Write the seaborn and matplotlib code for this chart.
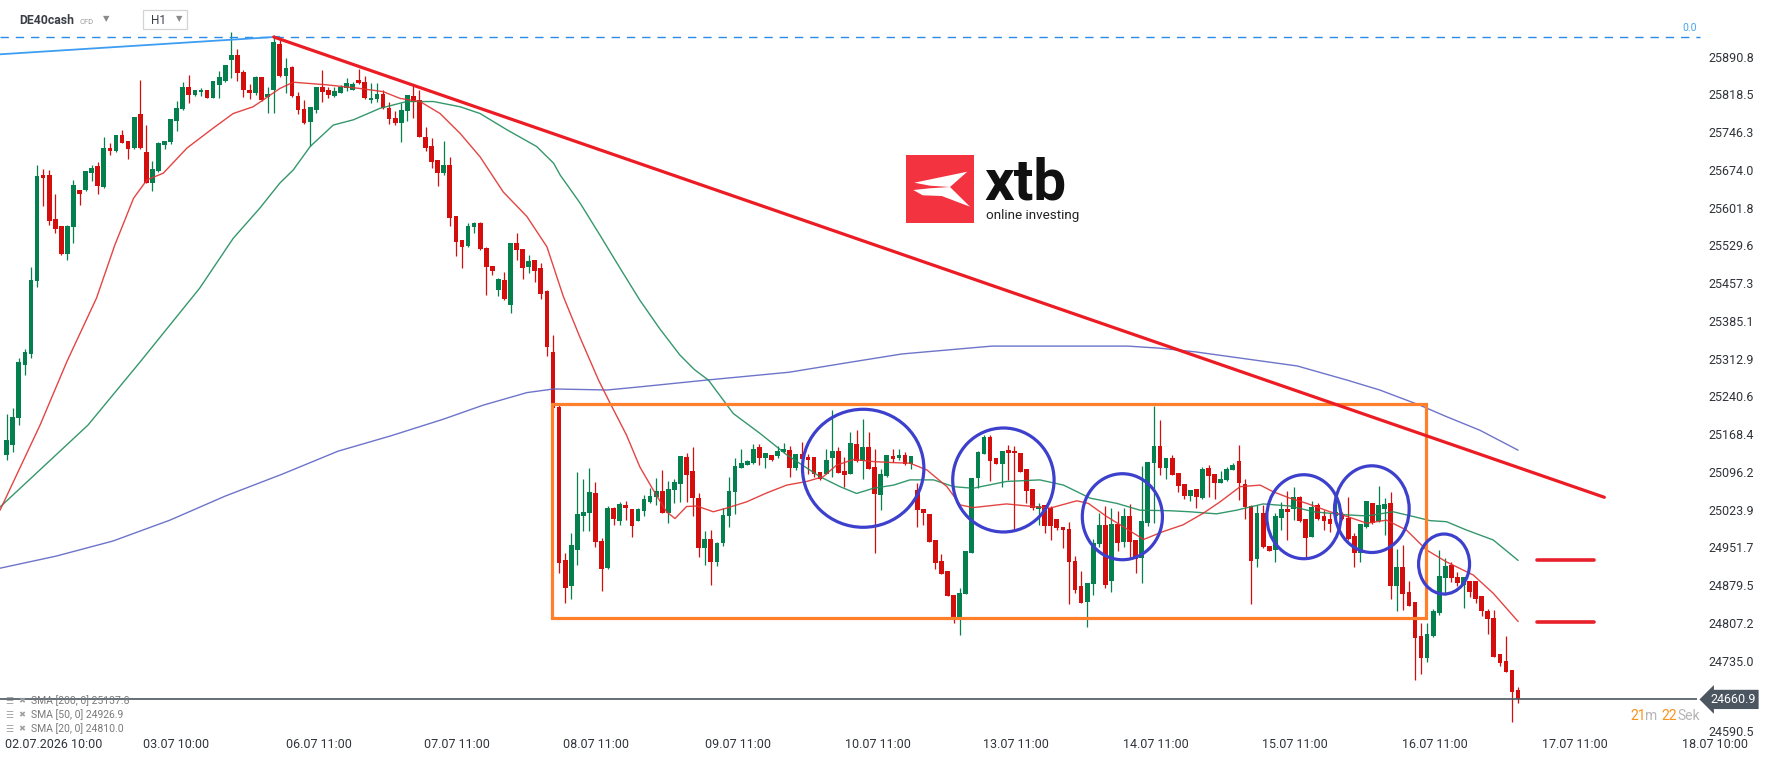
import numpy as np
import matplotlib
matplotlib.use('Agg')
import matplotlib.pyplot as plt
import seaborn as sns
from matplotlib.patches import Rectangle, Ellipse, Polygon
from matplotlib.transforms import ScaledTranslation

# --- hourly candles DE40cash, 02.07 - 16.07 ---
opens = [25129, 25148, 25200, 25301, 25322, 25462, 25664, 25664, 25580, 25566,
         25513, 25564, 25636, 25636, 25669, 25682, 25641, 25716, 25710, 25741,
         25730, 25716, 25781, 25708, 25650, 25673, 25722, 25728, 25768, 25791,
         25833, 25818, 25824, 25827, 25812, 25837, 25844, 25885, 25894, 25862,
         25828, 25822, 25851, 25814, 25827, 25916, 25854, 25871, 25816, 25790,
         25765, 25789, 25832, 25827, 25816, 25822, 25830, 25828, 25846, 25843,
         25807, 25810, 25819, 25793, 25773, 25763, 25786, 25816, 25808, 25738,
         25720, 25693, 25669, 25684, 25586, 25540, 25529, 25564, 25573, 25525,
         25490, 25444, 25464, 25416, 25535, 25523, 25489, 25502, 25486, 25442,
         25325, 25221, 24928, 24877, 24947, 25011, 25018, 25055, 24964, 24913,
         25027, 25003, 25033, 25025, 25003, 25021, 25039, 25049, 25060, 25018,
         25062, 25073, 25124, 25098, 25046, 24950, 24967, 24923, 24960, 25011,
         25057, 25104, 25109, 25113, 25143, 25123, 25129, 25127, 25135, 25138,
         25104, 25131, 25124, 25124, 25096, 25092, 25123, 25136, 25098, 25092,
         25150, 25118, 25143, 25105, 25052, 25088, 25127, 25123, 25129, 25111,
         25062, 25025, 25016, 24966, 24926, 24907, 24861, 24816, 24862, 24942,
         25085, 25131, 25163, 25122, 25111, 25138, 25137, 25133, 25102, 25064,
         25025, 25033, 25027, 25006, 24990, 24987, 24926, 24878, 24848, 24882,
         24958, 24995, 24888, 24997, 24962, 25012, 24966, 24931, 24999, 25114,
         25146, 25103, 25122, 25095, 25073, 25050, 25064, 25047, 25103, 25092,
         25075, 25081, 25100, 25117, 25073, 25031, 24929, 25018, 24955, 24946,
         25009, 25025, 25025, 25049, 25006, 24972, 25032, 25011, 25006, 25012,
         25016, 25009, 24974, 24942, 24991, 25036, 25002, 25025, 25036, 24877,
         24914, 24866, 24847, 24782, 24741, 24782, 24827, 24894, 24918, 24896,
         24880, 24888, 24888, 24858, 24831, 24817, 24748, 24734, 24717, 24679]
highs = [25207, 25219, 25314, 25331, 25489, 25684, 25676, 25674, 25628, 25567,
         25569, 25654, 25636, 25672, 25684, 25690, 25737, 25725, 25741, 25751,
         25730, 25776, 25846, 25760, 25691, 25728, 25730, 25772, 25806, 25843,
         25856, 25827, 25830, 25828, 25844, 25863, 25875, 25939, 25906, 25865,
         25838, 25854, 25851, 25832, 25932, 25925, 25888, 25873, 25823, 25808,
         25794, 25832, 25865, 25832, 25833, 25837, 25850, 25843, 25867, 25853,
         25840, 25840, 25827, 25805, 25787, 25802, 25818, 25835, 25827, 25756,
         25736, 25693, 25730, 25698, 25586, 25540, 25572, 25575, 25575, 25527,
         25490, 25468, 25479, 25535, 25554, 25523, 25511, 25502, 25496, 25445,
         25358, 25224, 24941, 24979, 25096, 25082, 25103, 25076, 24969, 25031,
         25030, 25039, 25041, 25025, 25028, 25053, 25066, 25085, 25100, 25079,
         25082, 25127, 25132, 25144, 25055, 24984, 24986, 24963, 25027, 25087,
         25122, 25140, 25119, 25150, 25150, 25132, 25129, 25146, 25151, 25145,
         25131, 25154, 25131, 25124, 25096, 25140, 25215, 25143, 25125, 25173,
         25177, 25198, 25172, 25140, 25102, 25129, 25140, 25141, 25135, 25127,
         25075, 25025, 25016, 24966, 24939, 24907, 24861, 24874, 24945, 25085,
         25136, 25167, 25167, 25122, 25137, 25148, 25145, 25133, 25102, 25064,
         25036, 25033, 25031, 25006, 24990, 25000, 24936, 24907, 24884, 24967,
         25018, 25031, 25028, 25021, 25027, 25034, 24966, 25108, 25116, 25222,
         25196, 25122, 25129, 25095, 25073, 25062, 25064, 25105, 25110, 25092,
         25098, 25106, 25113, 25148, 25083, 25033, 25033, 25033, 24955, 25018,
         25039, 25060, 25067, 25050, 25006, 25041, 25036, 25023, 25017, 25043,
         25020, 25049, 24979, 24996, 25041, 25037, 25069, 25046, 25057, 24948,
         24956, 24888, 24847, 24807, 24807, 24833, 24947, 24931, 24924, 24905,
         24896, 24888, 24888, 24858, 24833, 24832, 24748, 24782, 24717, 24685]
lows = [25119, 25134, 25186, 25282, 25315, 25451, 25605, 25569, 25553, 25511,
        25502, 25534, 25607, 25634, 25652, 25628, 25639, 25703, 25708, 25725,
        25695, 25714, 25714, 25649, 25633, 25671, 25714, 25724, 25749, 25789,
        25803, 25816, 25816, 25812, 25812, 25812, 25843, 25850, 25844, 25814,
        25809, 25818, 25806, 25783, 25783, 25851, 25822, 25813, 25781, 25762,
        25719, 25783, 25805, 25811, 25813, 25821, 25826, 25827, 25839, 25809,
        25803, 25805, 25790, 25762, 25760, 25728, 25768, 25774, 25737, 25710,
        25677, 25644, 25664, 25566, 25510, 25487, 25527, 25553, 25521, 25435,
        25473, 25432, 25425, 25401, 25502, 25465, 25476, 25459, 25427, 25318,
        25218, 24902, 24846, 24854, 24918, 24984, 24984, 24953, 24869, 24910,
        24995, 24995, 25004, 24972, 25003, 25011, 25036, 25033, 25017, 24999,
        25037, 25039, 25039, 25011, 24934, 24918, 24879, 24917, 24955, 24990,
        25016, 25104, 25109, 25111, 25110, 25104, 25117, 25122, 25133, 25087,
        25100, 25100, 25092, 25087, 25081, 25092, 25087, 25094, 25068, 25092,
        25116, 25082, 25102, 24941, 25023, 25087, 25116, 25119, 25110, 25101,
        24991, 24995, 24963, 24910, 24901, 24859, 24808, 24784, 24862, 24942,
        25065, 25131, 25079, 25111, 25067, 25081, 24985, 25097, 25037, 25023,
        24995, 24980, 24966, 24985, 24951, 24843, 24864, 24846, 24800, 24861,
        24953, 24875, 24867, 24944, 24953, 24934, 24903, 24884, 24993, 24999,
        25090, 25083, 25090, 25058, 25044, 25041, 25028, 25044, 25049, 25044,
        25075, 25078, 25099, 25043, 25006, 24843, 24914, 24951, 24944, 24923,
        24985, 24966, 25004, 25000, 24934, 24972, 25004, 24985, 24982, 25008,
        25004, 24966, 24915, 24923, 24988, 24996, 25001, 24976, 24854, 24831,
        24832, 24840, 24699, 24709, 24733, 24780, 24822, 24861, 24885, 24878,
        24835, 24856, 24845, 24821, 24786, 24743, 24724, 24714, 24618, 24654]
closes = [25157, 25202, 25307, 25325, 25464, 25663, 25659, 25577, 25561, 25513,
          25567, 25645, 25628, 25672, 25677, 25643, 25716, 25711, 25741, 25726,
          25714, 25776, 25716, 25650, 25676, 25726, 25730, 25772, 25793, 25833,
          25818, 25827, 25828, 25812, 25844, 25851, 25875, 25894, 25859, 25827,
          25822, 25851, 25808, 25819, 25918, 25854, 25869, 25816, 25788, 25763,
          25794, 25832, 25824, 25818, 25825, 25833, 25840, 25839, 25840, 25812,
          25812, 25819, 25792, 25771, 25763, 25789, 25818, 25805, 25737, 25717,
          25690, 25669, 25684, 25582, 25537, 25527, 25566, 25573, 25522, 25489,
          25481, 25465, 25427, 25534, 25520, 25487, 25500, 25481, 25437, 25336,
          25218, 24921, 24875, 24956, 25015, 25020, 25057, 24963, 24911, 25027,
          25006, 25035, 25028, 24993, 25025, 25044, 25050, 25060, 25018, 25064,
          25076, 25127, 25090, 25046, 24950, 24967, 24924, 24960, 25014, 25060,
          25108, 25114, 25117, 25141, 25123, 25132, 25119, 25137, 25140, 25103,
          25131, 25121, 25119, 25092, 25083, 25119, 25136, 25095, 25090, 25152,
          25118, 25143, 25102, 25054, 25092, 25129, 25121, 25129, 25111, 25127,
          25023, 25018, 24963, 24921, 24901, 24859, 24816, 24865, 24944, 25085,
          25135, 25163, 25118, 25111, 25137, 25132, 25132, 25097, 25060, 25027,
          25031, 24993, 24993, 24988, 24985, 24923, 24870, 24846, 24884, 24960,
          24995, 24880, 24997, 24960, 25011, 24963, 24929, 25002, 25116, 25146,
          25103, 25122, 25090, 25069, 25050, 25062, 25049, 25102, 25089, 25075,
          25083, 25101, 25110, 25075, 25029, 24926, 25017, 24953, 24944, 25011,
          25025, 25020, 25048, 25003, 24970, 25030, 25006, 25003, 24997, 25019,
          25006, 24968, 24942, 24996, 25041, 24998, 25033, 25035, 24877, 24914,
          24862, 24840, 24779, 24740, 24787, 24830, 24897, 24916, 24893, 24883,
          24896, 24867, 24854, 24831, 24814, 24743, 24731, 24714, 24676, 24660.9]

# --- moving averages (candle index / price) ---
sma20_idx = [-1.1, 5.5, 9.9, 14.8, 17.8, 20.9, 23.1, 25.8, 29.7, 34.0, 37.3, 40.6, 45.0, 47.2,
             52.7, 58.2, 62.0, 64.8, 68.1, 71.4, 74.7, 78.0, 81.8, 85.7, 89.0, 91.7, 94.4,
             97.5, 99.4, 102.1, 104.3, 106.5, 108.7, 110.1, 112.0, 113.7, 116.4, 118.6,
             121.9, 125.2, 128.5, 131.8, 134.5, 136.7, 139.5, 142.8, 146.1, 148.8, 151.6,
             154.9, 157.1, 159.2, 164.7, 169.1, 171.9, 176.3, 178.2, 181.2, 184.0, 187.3,
             190.5, 193.8, 197.1, 199.9, 203.2, 206.5, 208.7, 211.4, 214.2, 218.0, 220.8,
             224.1, 227.3, 230.6, 233.9, 237.2, 241.6, 244.9, 249.0]
sma20_val = [25023, 25186, 25307, 25429, 25530, 25620, 25655, 25668, 25716, 25754, 25782,
             25795, 25830, 25842, 25837, 25830, 25824, 25811, 25805, 25782, 25744, 25699,
             25632, 25585, 25527, 25432, 25355, 25272, 25228, 25167, 25106, 25062, 25020,
             25007, 25030, 25031, 25020, 25027, 25039, 25056, 25071, 25078, 25087, 25109,
             25120, 25116, 25114, 25113, 25100, 25068, 25033, 25028, 25035, 25030, 25027,
             25041, 25036, 25011, 24991, 24967, 24982, 24995, 25017, 25039, 25068, 25071,
             25058, 25046, 25036, 25020, 25011, 24998, 25004, 24985, 24947, 24924, 24899,
             24864, 24810.0]
sma50_idx = [-1.1, 13.4, 22.0, 31.8, 37.3, 41.7, 45.0, 47.2, 50.0, 53.8, 57.1, 61.5, 65.9,
             70.3, 74.7, 78.0, 82.4, 87.3, 90.1, 91.2, 94.5, 97.7, 101.0, 104.3, 107.6, 110.9,
             113.3, 115.6, 119.7, 124.1, 128.5, 134.0, 137.3, 140.0, 142.8, 146.1, 148.8,
             152.7, 156.0, 159.2, 164.7, 170.2, 174.1, 178.5, 182.9, 186.7, 191.6, 194.9,
             199.3, 202.6, 207.0, 211.4, 215.3, 220.8, 224.1, 228.4, 231.7, 234.5, 237.2,
             240.5, 244.9, 249.0]
sma50_val = [25029, 25186, 25307, 25448, 25543, 25601, 25649, 25674, 25719, 25760, 25770,
             25792, 25805, 25805, 25795, 25782, 25751, 25719, 25687, 25664, 25610, 25550,
             25487, 25425, 25370, 25320, 25292, 25272, 25208, 25170, 25129, 25087, 25068,
             25055, 25065, 25071, 25081, 25081, 25068, 25065, 25078, 25081, 25071, 25046,
             25036, 25023, 25022, 25020, 25016, 25023, 25035, 25031, 25020, 25014, 25012,
             25020, 25011, 25003, 25001, 24985, 24966, 24926.9]
sma200_idx = [-1.1, 8.1, 17.5, 26.9, 36.0, 45.4, 54.6, 63.2, 71.9, 78.5, 85.7, 90.1, 98.9,
              104.3, 115.3, 128.9, 138.9, 147.5, 162.3, 173.5, 184.7, 190.0, 195.8, 212.6,
              220.8, 226.2, 232.8, 237.2, 242.7, 249.0]
sma200_val = [24912, 24935, 24964, 25004, 25050, 25092, 25136, 25165, 25197, 25224, 25248,
              25255, 25253, 25259, 25272, 25287, 25306, 25322, 25337, 25337, 25337, 25333,
              25326, 25299, 25272, 25253, 25224, 25202, 25176, 25137.8]

# --- drawings on the chart ---
trend_idx = [44.0, 263.2]
trend_val = [25928.5, 25047.7]
fib_line_idx = [-1.1, 44.9]
fib_line_val = [25895.4, 25929.1]
fib_level = 25927.9
range_box = [89.8, 233.9, 24816.1, 25225.6]   # left, right, bottom, top
circle_idx = [141.1, 164.2, 183.8, 213.7, 224.9, 236.8]
circle_val = [25103.2, 25080.8, 25010.5, 25010.5, 25025.0, 24920.0]
circle_w = [20.0, 16.7, 13.2, 12.2, 12.3, 8.4]
circle_h = [225.8, 199.0, 164.6, 160.7, 165.9, 114.8]
level_marks = [24926.9, 24810.0]
last_price = 24660.9

yticks = [25890.8, 25818.5, 25746.3, 25674.0, 25601.8, 25529.6, 25457.3, 25385.1, 25312.9,
          25240.6, 25168.4, 25096.2, 25023.9, 24951.7, 24879.5, 24807.2, 24735.0, 24590.5]
xtick_labels = ['02.07.2026 10:00', '03.07 10:00', '06.07 11:00', '07.07 11:00', '08.07 11:00',
                '09.07 11:00', '10.07 11:00', '13.07 11:00', '14.07 11:00', '15.07 11:00',
                '16.07 11:00', '17.07 11:00', '18.07 10:00']
xtick_pos = [-0.2, 27.9, 51.5, 74.2, 97.1, 120.5, 143.6, 166.3, 189.3, 212.3, 235.3, 258.4, 281.4]

legend_lines = ['SMA [200, 0] 25137.8', 'SMA [50, 0] 24926.9', 'SMA [20, 0] 24810.0']

# --- layout ---
W, H = 1768, 761
BAR_PX, FIRST_PX = 6.07, 6.7
REF_PRICE, REF_PX, PX_PER_PT = 25890.8, 56.7, 0.52258

GREEN = '#04804f'
RED = '#d40d0d'

sns.set_theme(style='white')
plt.rcParams['font.family'] = ['Roboto', 'DejaVu Sans']

fig = plt.figure(figsize=(W / 100, H / 100), dpi=100)
ax = fig.add_axes([0, 0, 1, 1])
ax.set_xlim(-FIRST_PX / BAR_PX, (W - FIRST_PX) / BAR_PX)
ax.set_ylim(REF_PRICE - (H - REF_PX) / PX_PER_PT, REF_PRICE + REF_PX / PX_PER_PT)
for s in ax.spines.values():
    s.set_visible(False)


def fx(px):
    return px / W


def fy(py):
    return 1 - py / H


def px_idx(px):
    return (px - FIRST_PX) / BAR_PX


o = np.array(opens, dtype=float)
c = np.array(closes, dtype=float)
hi = np.array(highs, dtype=float)
lo = np.array(lows, dtype=float)
x = np.arange(len(c))
cols = np.where(c >= o, GREEN, RED)

ax.vlines(x, lo, hi, colors=cols, lw=0.9, zorder=2)
ax.bar(x, np.maximum(np.abs(c - o), 1.6), bottom=np.minimum(o, c), width=0.78,
       color=cols, linewidth=0, zorder=3)

sns.lineplot(x=sma200_idx, y=sma200_val, ax=ax, color='#5d65c4', lw=1.0, alpha=0.9,
             sort=False, estimator=None, legend=False, zorder=4)
sns.lineplot(x=sma50_idx, y=sma50_val, ax=ax, color='#1f8c5c', lw=1.0, alpha=0.9,
             sort=False, estimator=None, legend=False, zorder=4)
sns.lineplot(x=sma20_idx, y=sma20_val, ax=ax, color='#e0312f', lw=1.0, alpha=0.9,
             sort=False, estimator=None, legend=False, zorder=4)

# fibo / trend tools
xr = ax.get_xlim()
ax.hlines(fib_level, xr[0], px_idx(1700), colors='#2b8be6', lw=1.0,
          linestyles=(0, (6, 5)), zorder=4)
ax.plot(fib_line_idx, fib_line_val, color='#3d9df2', lw=1.3, zorder=4)
ax.text(px_idx(1697), fib_level + 17, '0.0', color='#4aa2ee', fontsize=7.5,
        ha='right', va='center')
ax.plot(trend_idx, trend_val, color='#ec1c24', lw=2.3, solid_capstyle='round', zorder=6)

ax.add_patch(Rectangle((range_box[0], range_box[2]), range_box[1] - range_box[0],
                       range_box[3] - range_box[2], fill=False, ec='#ff7f2a', lw=2.3, zorder=5))
for cx, cy, w, h in zip(circle_idx, circle_val, circle_w, circle_h):
    ax.add_patch(Ellipse((cx, cy), w, h, fill=False, ec='#3c40cc', lw=2.3, zorder=7))
for lv in level_marks:
    ax.hlines(lv, 252.1, 261.5, colors='#e8202a', lw=2.6, zorder=6, capstyle='round')

# last price
ax.hlines(last_price, xr[0], px_idx(1697), colors='#4b5661', lw=1.2, zorder=3)
ax.text(px_idx(1710), last_price, f'{last_price:.1f}', color='white',
        fontsize=9, ha='left', va='center', zorder=8,
        bbox=dict(boxstyle='larrow,pad=0.25', fc='#4b5661', ec='none'))

# axes ticks
ax.yaxis.tick_right()
ax.set_yticks(yticks)
ax.set_yticklabels([f'{v:.1f}' for v in yticks])
ax.tick_params(axis='y', length=0, pad=-43, labelsize=9, labelcolor='#30343a')
# lowest price label sits pushed up above the time axis, as in the platform
ax.get_yticklabels()[-1].set_transform(
    ax.get_yticklabels()[-1].get_transform() + ScaledTranslation(0, 4 / 72, fig.dpi_scale_trans))
ax.set_xticks(xtick_pos)
ax.set_xticklabels(xtick_labels)
ax.tick_params(axis='x', length=0, pad=-16.5, labelsize=9, labelcolor='#30343a')
for lab in ax.get_xticklabels():
    lab.set_family(['Liberation Sans Narrow', 'Roboto'])
ax.get_xticklabels()[0].set_horizontalalignment('left')

# header
fig.text(fx(19), fy(20), 'DE40cash', fontsize=8.8, fontweight='bold', color='#3a3f47', va='center')
fig.text(fx(79), fy(22), 'CFD', fontsize=5.5, color='#9a9a9a', va='center')
fig.text(fx(103), fy(19), '▼', fontsize=6, color='#8a8a8a', va='center', family=['DejaVu Sans'])
fig.add_artist(Rectangle((fx(143), fy(29)), 44 / W, 19 / H, transform=fig.transFigure,
                         fill=False, ec='#d4d4d4', lw=0.9))
fig.text(fx(151), fy(20), 'H1', fontsize=8.5, color='#3a3f47', va='center')
fig.text(fx(176), fy(19), '▼', fontsize=6, color='#8a8a8a', va='center', family=['DejaVu Sans'])

# xtb logo
fig.add_artist(Rectangle((fx(906), fy(223)), 68 / W, 68 / H, transform=fig.transFigure,
                         color='#f3333f', lw=0))
shard1 = [(914.3, 182.7), (967.3, 171.7), (950, 187), (930, 185.7)]
shard2 = [(913.3, 190), (930, 188.3), (950, 187), (970, 206.7), (941.7, 196), (922.7, 195.3)]
for sh in (shard1, shard2):
    fig.add_artist(Polygon([(fx(a), fy(b)) for a, b in sh], closed=True,
                           transform=fig.transFigure, color='white', lw=0))
fig.text(fx(984), fy(199), 'xtb', fontsize=42, fontweight='bold', color='#111111', va='baseline')
fig.text(fx(986), fy(219), 'online investing', fontsize=9.7, color='#222222', va='baseline')

# countdown
for txt, px, col in [('21', 1630, '#f7941d'), ('m', 1645, '#b5b5b5'),
                     ('22', 1661, '#f7941d'), ('Sek', 1677, '#b5b5b5')]:
    fig.text(fx(px), fy(716), txt, fontsize=10, color=col, va='center')

# indicator legend
for i, line in enumerate(legend_lines):
    yy = fy(701 + i * 14)
    fig.text(fx(5), yy, '☰', fontsize=6.5, color='#a0a0a0', va='center', family=['DejaVu Sans'])
    fig.text(fx(18), yy, '✖', fontsize=6, color='#a0a0a0', va='center', family=['DejaVu Sans'])
    fig.text(fx(31), yy, line, fontsize=7.5, color='#7a7a7a', va='center',
             family=['Liberation Sans Narrow', 'Roboto'])

fig.savefig('out.png', dpi=100)
